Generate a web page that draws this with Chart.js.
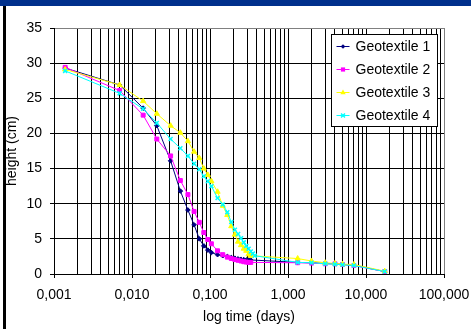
<!DOCTYPE html>
<html>
<head>
<meta charset="utf-8">
<script src="https://cdn.jsdelivr.net/npm/chart.js@4/dist/chart.umd.min.js"></script>
<style>
  html, body { margin: 0; padding: 0; background: #fff; }
  #wrap { width: 471px; height: 329px; position: relative; }
</style>
</head>
<body>
<div id="wrap"><canvas id="c" width="471" height="329"></canvas></div>
<script>
// ---- data (time in days, height in cm) ----
const seriesNames = ['Geotextile 1', 'Geotextile 2', 'Geotextile 3', 'Geotextile 4'];
const timesA = [0.00139, 0.00694, 0.0139, 0.0208, 0.03125, 0.0417, 0.0521, 0.0625, 0.0729, 0.0833, 0.0938, 0.1042, 0.125, 0.1458, 0.1667, 0.1875, 0.2083, 0.2292, 0.25, 0.2708, 0.2917, 0.3125, 0.3333, 1.33, 2, 3, 4, 5, 7, 17.4];
const times4 = [0.00139, 0.00694, 0.0139, 0.0208, 0.03125, 0.0417, 0.0521, 0.0625, 0.0729, 0.0833, 0.0938, 0.1042, 0.125, 0.1458, 0.1667, 0.1875, 0.2083, 0.2292, 0.25, 0.2708, 0.2917, 0.3125, 0.3333, 0.3542, 0.375, 1.33, 2, 3, 4, 5, 7, 17.4];
const geo1 = [29.3, 26.9, 23.6, 21.1, 16.1, 11.8, 9.1, 7.0, 5.0, 4.0, 3.4, 3.05, 2.75, 2.6, 2.5, 2.35, 2.25, 2.15, 2.1, 2.05, 2.0, 2.0, 2.0, 1.65, 1.6, 1.5, 1.45, 1.35, 1.25, 0.35];
const geo2 = [29.4, 26.1, 22.6, 19.2, 16.8, 13.3, 11.3, 8.9, 7.35, 5.9, 4.9, 4.3, 3.3, 2.75, 2.4, 2.2, 2.05, 1.95, 1.85, 1.75, 1.7, 1.65, 1.65, 1.6, 1.55, 1.45, 1.45, 1.35, 1.2, 0.35];
const geo3 = [29.1, 26.9, 24.6, 22.8, 21.1, 20.1, 18.9, 17.4, 16.5, 15.0, 14.1, 13.2, 11.7, 9.7, 8.4, 6.8, 5.6, 4.6, 4.1, 3.6, 3.3, 2.8, 2.6, 2.2, 1.85, 1.6, 1.5, 1.4, 1.35, 0.4];
const geo4 = [28.9, 25.7, 23.5, 21.5, 19.2, 17.9, 16.8, 15.7, 14.9, 13.9, 13.2, 12.5, 10.8, 9.9, 8.8, 7.4, 6.3, 5.7, 5.1, 4.5, 4.0, 3.6, 3.2, 2.9, 2.6, 1.65, 1.6, 1.45, 1.4, 1.3, 1.2, 0.35];
const xDecades = [0.001, 0.01, 0.1, 1, 10, 100];
const xTickLabels = ['0,001', '0,010', '0,100', '1,000', '10,000', '100,000'];
const yTickValues = [0, 5, 10, 15, 20, 25, 30, 35];
const xTitle = 'log time (days)';
const yTitle = 'height (cm)';

// ---- styles ----
const colors = ['#000080', '#FF00FF', '#FFFF00', '#00FFFF'];
const pointStyles = ['rectRot', 'rect', 'triangle', 'crossRot'];
const pointRadii = [2.3, 2.8, 3, 2.8];
const FONT = 'Liberation Sans, Arial, sans-serif';

function pts(t, h) { return t.map((v, i) => ({ x: v, y: h[i] })); }
const seriesData = [pts(timesA, geo1), pts(timesA, geo2), pts(timesA, geo3), pts(times4, geo4)];

const datasets = seriesNames.map((name, i) => ({
  label: name,
  data: seriesData[i],
  borderColor: colors[i],
  backgroundColor: colors[i],
  borderWidth: 1,
  pointStyle: pointStyles[i],
  pointRadius: pointRadii[i],
  pointBorderWidth: i === 3 ? 1.5 : 1,
  pointBackgroundColor: colors[i],
  pointBorderColor: colors[i],
  tension: 0,
  order: 4 - i
}));

const framePlugin = {
  id: 'frame',
  beforeDraw(chart) {
    const ctx = chart.ctx;
    ctx.save();
    ctx.fillStyle = '#fff';
    ctx.fillRect(0, 0, chart.width, chart.height);
    ctx.fillStyle = '#00308C';
    ctx.fillRect(0, 0, chart.width, 6);
    ctx.fillStyle = '#000';
    ctx.fillRect(3, 6, 3, chart.height - 6);
    ctx.restore();
  }
};

function drawMarker(ctx, style, x, y, r, color) {
  ctx.save();
  ctx.fillStyle = color; ctx.strokeStyle = color; ctx.lineWidth = 1;
  ctx.beginPath();
  if (style === 'rectRot') {
    ctx.moveTo(x, y - r); ctx.lineTo(x + r, y); ctx.lineTo(x, y + r); ctx.lineTo(x - r, y); ctx.closePath(); ctx.fill();
  } else if (style === 'rect') {
    const s = r * 0.75; ctx.rect(x - s, y - s, 2 * s, 2 * s); ctx.fill();
  } else if (style === 'triangle') {
    ctx.moveTo(x, y - r); ctx.lineTo(x + r * 0.9, y + r * 0.6); ctx.lineTo(x - r * 0.9, y + r * 0.6); ctx.closePath(); ctx.fill();
  } else {
    ctx.lineWidth = 1.5; const s = r * 0.7;
    ctx.moveTo(x - s, y - s); ctx.lineTo(x + s, y + s); ctx.moveTo(x + s, y - s); ctx.lineTo(x - s, y + s); ctx.stroke();
  }
  ctx.restore();
}

const legendPlugin = {
  id: 'boxLegend',
  afterDraw(chart) {
    const ctx = chart.ctx;
    const a = chart.chartArea;
    const bx = Math.round(a.right - 113) + 0.5, by = Math.round(a.top + 6) + 0.5, bw = 106, bh = 92;
    ctx.save();
    ctx.fillStyle = '#fff';
    ctx.fillRect(bx, by, bw, bh);
    ctx.strokeStyle = '#000'; ctx.lineWidth = 1;
    ctx.strokeRect(bx, by, bw, bh);
    ctx.font = '14px ' + FONT;
    ctx.textBaseline = 'middle';
    ctx.textAlign = 'left';
    chart.data.datasets.forEach((ds, i) => {
      const cy = by + 12 + i * 23;
      ctx.strokeStyle = ds.borderColor; ctx.lineWidth = 1;
      ctx.beginPath(); ctx.moveTo(bx + 5, cy); ctx.lineTo(bx + 18, cy); ctx.stroke();
      drawMarker(ctx, ds.pointStyle, bx + 11.5, cy, ds.pointRadius, ds.borderColor);
      ctx.fillStyle = '#000';
      ctx.fillText(ds.label, bx + 24, cy + 1);
    });
    ctx.restore();
  }
};

function isDecade(v) {
  return xDecades.some(d => Math.abs(v - d) / d < 1e-6);
}

new Chart(document.getElementById('c'), {
  type: 'line',
  data: { datasets },
  plugins: [framePlugin, legendPlugin],
  options: {
    responsive: false,
    animation: false,
    devicePixelRatio: 1,
    layout: { padding: { top: 28, right: 27, bottom: 0, left: 0 } },
    plugins: { legend: { display: false }, tooltip: { enabled: false } },
    scales: {
      x: {
        type: 'logarithmic',
        min: xDecades[0],
        max: xDecades[xDecades.length - 1],
        afterBuildTicks(scale) {
          const ticks = [];
          for (let d = 0; d < xDecades.length - 1; d++) {
            for (let m = 1; m <= 9; m++) ticks.push({ value: xDecades[d] * m });
          }
          ticks.push({ value: xDecades[xDecades.length - 1] });
          scale.ticks = ticks;
        },
        afterFit(scale) { scale.height = 55; scale.paddingLeft = 0; scale.paddingRight = 0; },
        ticks: {
          autoSkip: false, maxRotation: 0, minRotation: 0, padding: 9,
          color: '#000', font: { family: FONT, size: 14 },
          callback(value) {
            const idx = xDecades.findIndex(d => Math.abs(value - d) / d < 1e-6);
            return idx >= 0 ? xTickLabels[idx] : '';
          }
        },
        grid: {
          color: (ctx) => (ctx.tick && Math.abs(ctx.tick.value - 100) < 1e-6) ? '#808080' : '#000',
          lineWidth: 1, drawTicks: true, tickLength: 4,
          tickColor: (ctx) => (ctx.tick && isDecade(ctx.tick.value)) ? '#000' : 'rgba(0,0,0,0)'
        },
        border: { color: '#000', width: 1 },
        title: { display: true, text: xTitle, color: '#000', font: { family: FONT, size: 14 }, padding: { top: 0, bottom: 3 } }
      },
      y: {
        type: 'linear',
        min: yTickValues[0],
        max: yTickValues[yTickValues.length - 1],
        afterBuildTicks(scale) { scale.ticks = yTickValues.map(v => ({ value: v })); },
        afterFit(scale) { scale.width = 54; scale.paddingTop = 0; scale.paddingBottom = 0; },
        ticks: { stepSize: 5, padding: 8, color: '#000', font: { family: FONT, size: 14 } },
        grid: {
          color: (ctx) => (ctx.tick && ctx.tick.value === 35) ? '#808080' : '#000',
          lineWidth: 1, drawTicks: true, tickLength: 4, tickColor: '#000'
        },
        border: { color: '#000', width: 1 },
        title: { display: true, text: yTitle, color: '#000', font: { family: FONT, size: 14 }, padding: { top: 4, bottom: 0 } }
      }
    }
  }
});
</script>
</body>
</html>
